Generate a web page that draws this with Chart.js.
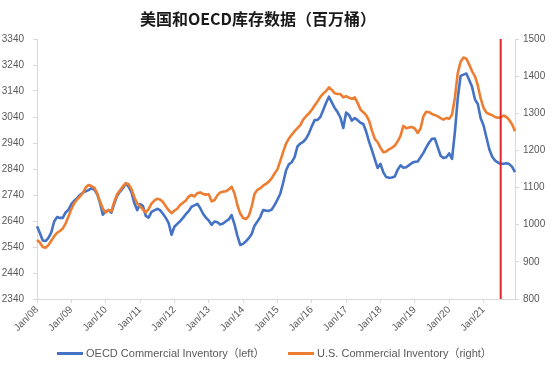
<!DOCTYPE html>
<html><head><meta charset="utf-8">
<script src="https://cdn.jsdelivr.net/npm/chart.js@4"></script>
<style>
html,body{margin:0;padding:0;background:#fff;}
#wrap{position:relative;width:552px;height:369px;overflow:hidden;background:#fff;}
#title{position:absolute;left:0;top:7px;width:516px;text-align:center;font-family:'Noto Sans CJK SC';font-weight:bold;font-size:16px;line-height:22px;color:#1a1a1a;}
canvas{position:absolute;left:0;top:0;}
.lg{position:absolute;top:345px;height:16px;line-height:16px;font-family:'Liberation Sans','Noto Sans CJK SC';font-size:11px;color:#595959;white-space:nowrap;}
.lg i{display:inline-block;width:26px;height:3px;vertical-align:middle;margin-right:3px;position:relative;top:-1px;}
</style></head>
<body>
<div id="wrap">
<canvas id="c" width="552" height="369"></canvas>
<div id="title">美国和OECD库存数据（百万桶）</div>
<div class="lg" style="left:57px"><i style="background:#4472C4"></i>OECD Commercial Inventory（left）</div>
<div class="lg" style="left:288px"><i style="background:#ED7D31"></i>U.S. Commercial Inventory（right）</div>
</div>
<script>
const years = ['08','09','10','11','12','13','14','15','16','17','18','19','20','21'];
const months = ['Jan','Feb','Mar','Apr','May','Jun','Jul','Aug','Sep','Oct','Nov','Dec'];
const categories = [];
years.forEach(y => months.forEach(m => categories.push(m + '/' + y)));
const yearTicks = ['Jan/08','Jan/09','Jan/10','Jan/11','Jan/12','Jan/13','Jan/14','Jan/15','Jan/16','Jan/17','Jan/18','Jan/19','Jan/20','Jan/21'];
const markLabel = 'Jul/21';

const oecd = [
2620,2594,2565,2563,2575,2596,2638,2655,2652,2652,2673,2683,
2705,2718,2728,2740,2749,2754,2759,2766,2761,2744,2710,2664,
2677,2682,2672,2707,2737,2753,2766,2785,2772,2751,2709,2682,
2705,2698,2660,2653,2675,2681,2687,2682,2668,2652,2632,2587,
2618,2629,2639,2652,2666,2678,2695,2700,2706,2690,2668,2653,
2642,2625,2638,2635,2627,2630,2639,2646,2663,2627,2584,2548,
2552,2562,2574,2590,2622,2638,2655,2682,2680,2679,2684,2701,
2722,2745,2787,2834,2858,2866,2886,2927,2938,2944,2957,2977,
3004,3028,3029,3040,3067,3095,3118,3096,3075,3059,3038,2998,
3057,3048,3026,3036,3028,3018,3013,2984,2945,2913,2878,2844,
2860,2827,2809,2806,2807,2811,2837,2854,2845,2847,2855,2863,
2868,2869,2885,2902,2923,2942,2956,2957,2924,2891,2882,2885,
2900,2879,2982,3113,3198,3203,3207,3182,3156,3108,3090,3035,
3008,2962,2917,2888,2873,2865,2860,2860,2862,2859,2848,2828];

const us = [
959,952,940,938,945,957,969,978,983,990,1003,1022,
1042,1058,1068,1076,1085,1100,1107,1104,1100,1085,1063,1043,
1033,1040,1036,1062,1082,1093,1103,1112,1109,1096,1074,1057,
1050,1041,1033,1042,1057,1065,1070,1068,1061,1050,1039,1031,
1038,1043,1053,1059,1065,1076,1080,1076,1085,1087,1083,1081,
1082,1063,1066,1079,1087,1089,1090,1095,1102,1084,1053,1030,
1018,1015,1024,1049,1083,1094,1098,1105,1110,1116,1125,1138,
1149,1172,1196,1218,1232,1242,1252,1260,1268,1283,1292,1300,
1309,1321,1332,1344,1353,1360,1370,1363,1354,1352,1352,1343,
1346,1342,1339,1343,1328,1310,1303,1295,1280,1254,1231,1222,
1207,1195,1197,1203,1207,1213,1224,1239,1266,1260,1262,1263,
1259,1247,1259,1292,1304,1303,1298,1295,1292,1287,1283,1287,
1285,1296,1342,1408,1439,1450,1447,1431,1413,1400,1375,1340,
1315,1302,1298,1295,1290,1288,1289,1294,1290,1282,1270,1252];

const leftMin = 2340, leftMax = 3340, rightMin = 800, rightMax = 1500;

const tickFont = {family:'Liberation Sans', size:10};
const plain = v => String(v);
new Chart(document.getElementById('c'), {
  type: 'line',
  data: {
    labels: categories,
    datasets: [
      {label:'OECD Commercial Inventory（left）', data: oecd, yAxisID:'y', borderColor:'#4472C4', backgroundColor:'#4472C4', borderWidth:2.6, pointRadius:0, tension:0, order:2, borderJoinStyle:'round'},
      {label:'U.S. Commercial Inventory（right）', data: us, yAxisID:'y1', borderColor:'#ED7D31', backgroundColor:'#ED7D31', borderWidth:2.6, pointRadius:0, tension:0, order:1, borderJoinStyle:'round'},
      {label:'marker', data: [{x:markLabel, y:leftMin}, {x:markLabel, y:leftMax}], yAxisID:'y', borderColor:'#E3242B', borderWidth:2, pointRadius:0, order:0}
    ]
  },
  options: {
    responsive:false, animation:false,
    layout:{padding:{top:39, bottom:30, left:0, right:0}},
    plugins:{legend:{display:false}, title:{display:false}, tooltip:{enabled:false}},
    scales:{
      x:{
        type:'category', offset:false,
        grid:{drawOnChartArea:false, color:'#d9d9d9', tickLength:4},
        border:{color:'#d9d9d9'},
        ticks:{autoSkip:false, minRotation:45, maxRotation:45, padding:1, font:tickFont, color:'#595959',
          callback:(v,i)=> yearTicks.includes(categories[i]) ? categories[i] : null},
        afterFit:s=>{s.height = 40;}
      },
      y:{
        position:'left', min:leftMin, max:leftMax,
        grid:{drawOnChartArea:false, color:'#d9d9d9', tickLength:4},
        border:{color:'#d9d9d9'},
        ticks:{stepSize:100, padding:9, font:tickFont, color:'#595959', callback:plain},
        afterFit:s=>{s.width = 37;}
      },
      y1:{
        position:'right', min:rightMin, max:rightMax,
        grid:{drawOnChartArea:false, color:'#d9d9d9', tickLength:4},
        border:{color:'#d9d9d9'},
        ticks:{stepSize:100, padding:4, font:tickFont, color:'#595959', callback:plain},
        afterFit:s=>{s.width = 37;}
      }
    }
  }
});
</script>
</body></html>
